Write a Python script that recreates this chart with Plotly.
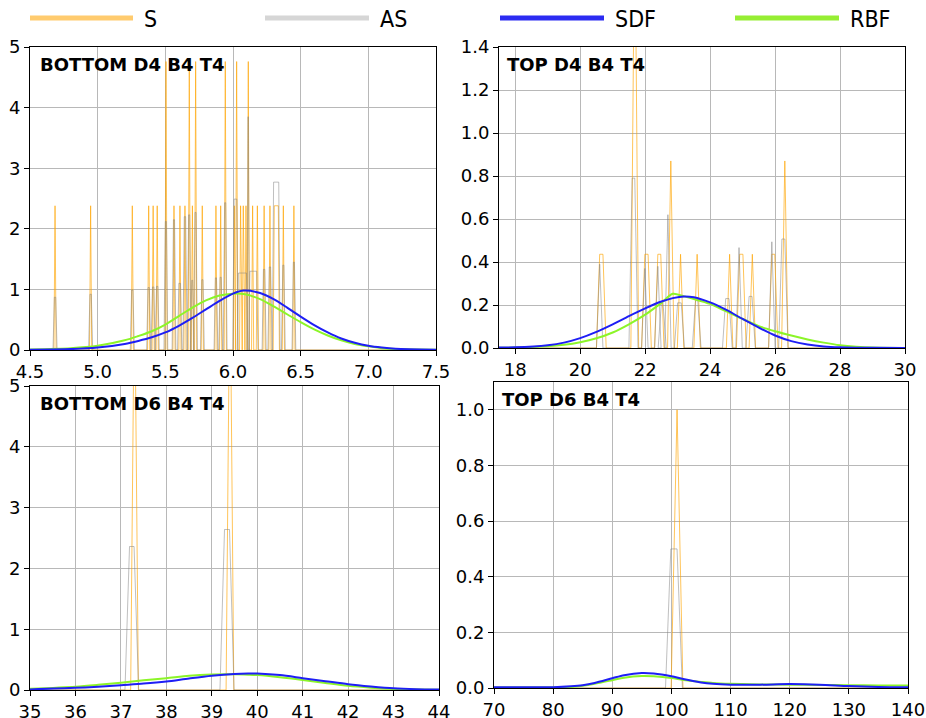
import plotly.graph_objects as go
from plotly.subplots import make_subplots

W, H = 926, 718

# ---------------- DATA ----------------
series_names = ["S", "AS", "SDF", "RBF"]
panel_titles = ["BOTTOM D4 B4 T4", "TOP D4 B4 T4", "BOTTOM D6 B4 T4", "TOP D6 B4 T4"]

# Panel 1: BOTTOM D4 B4 T4
tl_s_start = [4.685, 4.948, 5.256, 5.377, 5.410, 5.440, 5.505, 5.564, 5.608, 5.645, 5.677, 5.700, 5.724,
              5.773, 5.874, 5.909, 5.943, 6.010, 6.027, 6.056, 6.076, 6.096, 6.113, 6.145, 6.180, 6.230,
              6.273, 6.305, 6.372, 6.450]
tl_s_end = [4.685, 4.948, 5.256, 5.377, 5.410, 5.440, 5.505, 5.564, 5.608, 5.645, 5.677, 5.700, 5.724,
            5.773, 5.874, 5.909, 5.943, 6.010, 6.027, 6.056, 6.076, 6.096, 6.113, 6.145, 6.180, 6.230,
            6.273, 6.335, 6.372, 6.450]
tl_s_h = [2.38, 2.38, 2.38, 2.38, 2.38, 2.38, 4.76, 2.38, 2.38, 2.38, 4.76, 2.38, 4.76,
          2.38, 2.38, 2.38, 4.76, 2.38, 4.76, 2.38, 2.38, 2.38, 4.76, 2.38, 2.38, 2.38,
          2.38, 2.38, 2.38, 2.38]
tl_as_start = [4.680, 4.943, 5.251, 5.372, 5.405, 5.435, 5.500, 5.560, 5.600, 5.640, 5.672, 5.695, 5.719,
               5.770, 5.870, 5.905, 5.938, 6.008, 6.040, 6.112, 6.125, 6.225, 6.268, 6.300, 6.368, 6.446]
tl_as_end = [4.690, 4.953, 5.261, 5.382, 5.415, 5.445, 5.508, 5.568, 5.612, 5.650, 5.680, 5.702, 5.727,
             5.778, 5.878, 5.913, 5.946, 6.028, 6.100, 6.112, 6.175, 6.235, 6.278, 6.338, 6.376, 6.454]
tl_as_h = [0.87, 0.92, 0.99, 1.03, 1.04, 1.05, 2.12, 2.15, 1.10, 2.20, 2.23, 1.15, 2.27,
           1.16, 1.19, 1.20, 2.43, 2.49, 1.27, 3.85, 1.30, 1.33, 1.37, 2.77, 1.40, 1.45]
tl_curve_x = [4.5, 4.8, 5.0, 5.2, 5.3, 5.4, 5.5, 5.6, 5.7, 5.8, 5.9, 6.0, 6.08, 6.2, 6.3, 6.4, 6.5,
              6.6, 6.7, 6.8, 6.9, 7.0, 7.1, 7.2, 7.5]
tl_sdf = [0.005, 0.015, 0.04, 0.10, 0.15, 0.21, 0.29, 0.40, 0.53, 0.67, 0.81, 0.93, 0.98, 0.94, 0.84,
          0.70, 0.55, 0.41, 0.29, 0.19, 0.12, 0.07, 0.04, 0.02, 0.005]
tl_rbf = [0.01, 0.03, 0.07, 0.16, 0.23, 0.31, 0.42, 0.56, 0.70, 0.82, 0.90, 0.93, 0.925, 0.84, 0.72,
          0.59, 0.46, 0.34, 0.24, 0.16, 0.10, 0.06, 0.03, 0.015, 0.005]

# Panel 2: TOP D4 B4 T4
tr_s_start = [20.60, 21.66, 21.99, 22.39, 22.79, 23.09, 23.60, 24.60, 24.91, 25.30, 25.90, 26.30]
tr_s_end = [20.70, 21.70, 22.09, 22.48, 22.79, 23.09, 23.60, 24.60, 25.01, 25.30, 25.99, 26.30]
tr_s_h = [0.436, 1.74, 0.436, 0.436, 0.87, 0.436, 0.436, 0.436, 0.436, 0.436, 0.436, 0.87]
tr_as_start = [20.60, 21.60, 21.99, 22.39, 22.50, 22.70, 23.00, 23.55, 24.48, 24.89, 25.20, 25.90, 26.21]
tr_as_end = [20.60, 21.68, 21.99, 22.39, 22.55, 22.70, 23.11, 23.62, 24.58, 24.89, 25.29, 25.90, 26.30]
tr_as_h = [0.39, 0.79, 0.37, 0.38, 0.21, 0.62, 0.21, 0.22, 0.23, 0.467, 0.24, 0.494, 0.507]
tr_curve_x = [17.5, 18, 19, 19.5, 20, 20.5, 21, 21.5, 22, 22.5, 22.85, 23.2, 23.5, 24, 24.5, 25, 25.5,
              26, 26.5, 27, 27.5, 28, 28.5, 29, 30]
tr_sdf = [0.002, 0.003, 0.013, 0.025, 0.046, 0.075, 0.110, 0.148, 0.184, 0.216, 0.232, 0.240, 0.236,
          0.212, 0.177, 0.135, 0.095, 0.058, 0.032, 0.016, 0.007, 0.003, 0.0015, 0.001, 0.0]
tr_rbf = [0.001, 0.002, 0.008, 0.015, 0.027, 0.045, 0.072, 0.110, 0.155, 0.210, 0.252, 0.240, 0.228,
          0.205, 0.170, 0.135, 0.102, 0.078, 0.058, 0.040, 0.025, 0.013, 0.006, 0.002, 0.0]

# Panel 3: BOTTOM D6 B4 T4
bl_s_start = [37.30, 39.40]
bl_s_end = [37.30, 39.40]
bl_s_h = [7.0, 7.2]
bl_as_start = [37.19, 39.28]
bl_as_end = [37.29, 39.39]
bl_as_h = [2.36, 2.64]
bl_curve_x = [35, 36, 36.5, 37, 37.5, 38, 38.5, 39, 39.5, 39.8, 40, 40.5, 41, 41.5, 42, 42.5, 43, 43.5, 44]
bl_sdf = [0.01, 0.035, 0.055, 0.08, 0.105, 0.14, 0.19, 0.235, 0.265, 0.272, 0.27, 0.245, 0.195, 0.145,
          0.095, 0.058, 0.028, 0.014, 0.008]
bl_rbf = [0.02, 0.055, 0.085, 0.12, 0.16, 0.195, 0.235, 0.255, 0.258, 0.252, 0.245, 0.21, 0.165, 0.115,
          0.068, 0.038, 0.018, 0.009, 0.005]

# Panel 4: TOP D6 B4 T4
br_s_start = [100.95]
br_s_end = [100.95]
br_s_h = [1.0]
br_as_start = [99.9]
br_as_end = [100.95]
br_as_h = [0.5]
br_curve_x = [70, 80, 83, 85, 87, 90, 92, 95, 97, 100, 102, 105, 107, 110, 115, 120, 125, 130, 135, 140]
br_sdf = [0.003, 0.003, 0.006, 0.010, 0.018, 0.035, 0.046, 0.054, 0.052, 0.042, 0.032, 0.020, 0.015,
          0.012, 0.012, 0.014, 0.012, 0.007, 0.004, 0.003]
br_rbf = [0.002, 0.002, 0.004, 0.008, 0.015, 0.028, 0.037, 0.043, 0.042, 0.036, 0.029, 0.022, 0.018,
          0.015, 0.013, 0.012, 0.011, 0.010, 0.009, 0.009]

# axis ranges & ticks
x_ranges = [[4.5, 7.5], [17.5, 30], [35, 44], [70, 140]]
y_ranges = [[0, 5], [0, 1.4], [0, 5], [0, 1.1]]
x_ticks = [[4.5, 5.0, 5.5, 6.0, 6.5, 7.0, 7.5], [18, 20, 22, 24, 26, 28, 30],
           [35, 36, 37, 38, 39, 40, 41, 42, 43, 44], [70, 80, 90, 100, 110, 120, 130, 140]]
x_ticktext = [["4.5", "5.0", "5.5", "6.0", "6.5", "7.0", "7.5"], ["18", "20", "22", "24", "26", "28", "30"],
              ["35", "36", "37", "38", "39", "40", "41", "42", "43", "44"],
              ["70", "80", "90", "100", "110", "120", "130", "140"]]
y_ticks = [[0, 1, 2, 3, 4, 5], [0, 0.2, 0.4, 0.6, 0.8, 1.0, 1.2, 1.4], [0, 1, 2, 3, 4, 5],
           [0, 0.2, 0.4, 0.6, 0.8, 1.0]]
y_ticktext = [["0", "1", "2", "3", "4", "5"], ["0.0", "0.2", "0.4", "0.6", "0.8", "1.0", "1.2", "1.4"],
              ["0", "1", "2", "3", "4", "5"], ["0.0", "0.2", "0.4", "0.6", "0.8", "1.0"]]
ramps_s = [0.008, 0.1, 0.085, 1.0]
ramps_as = [0.01, 0.1, 0.1, 0.9]

# ---------------- STYLE ----------------
C_S = "rgba(255,165,0,0.65)"
C_AS = "rgba(128,128,128,0.5)"
C_SDF = "rgb(30,30,245)"
C_RBF = "rgb(140,245,40)"
LEG_COLORS = ["#FFCB6E", "#D6D6D6", "#2B2BF2", "#96EE33"]

# pixel layout of each panel: (left, right, top, bottom)
panel_px = [(30, 436, 47, 350), (499, 905, 47, 348), (30, 439, 386, 690), (494, 908, 382, 688)]


def build_steps(starts, ends, heights, ramp, xr):
    xs, ys = [xr[0]], [0]
    for s, e, h in zip(starts, ends, heights):
        xs += [s - ramp, s, e, e + ramp]
        ys += [0, h, h, 0]
    xs.append(xr[1])
    ys.append(0)
    return xs, ys


fig = make_subplots(rows=2, cols=2)

panels = [
    (tl_s_start, tl_s_end, tl_s_h, tl_as_start, tl_as_end, tl_as_h, tl_curve_x, tl_sdf, tl_rbf),
    (tr_s_start, tr_s_end, tr_s_h, tr_as_start, tr_as_end, tr_as_h, tr_curve_x, tr_sdf, tr_rbf),
    (bl_s_start, bl_s_end, bl_s_h, bl_as_start, bl_as_end, bl_as_h, bl_curve_x, bl_sdf, bl_rbf),
    (br_s_start, br_s_end, br_s_h, br_as_start, br_as_end, br_as_h, br_curve_x, br_sdf, br_rbf),
]

for i, (ss, se, sh, as_, ae, ah, cx, sdf, rbf) in enumerate(panels):
    r, c = i // 2 + 1, i % 2 + 1
    sx, sy = build_steps(ss, se, sh, ramps_s[i], x_ranges[i])
    ax, ay = build_steps(as_, ae, ah, ramps_as[i], x_ranges[i])
    fig.add_trace(go.Scatter(x=sx, y=sy, mode="lines", name=series_names[0], showlegend=False,
                             line=dict(color=C_S, width=1)), row=r, col=c)
    fig.add_trace(go.Scatter(x=ax, y=ay, mode="lines", name=series_names[1], showlegend=False,
                             line=dict(color=C_AS, width=1)), row=r, col=c)
    fig.add_trace(go.Scatter(x=cx, y=rbf, mode="lines", name=series_names[3], showlegend=False,
                             line=dict(color=C_RBF, width=2, shape="spline", smoothing=0.8)), row=r, col=c)
    fig.add_trace(go.Scatter(x=cx, y=sdf, mode="lines", name=series_names[2], showlegend=False,
                             line=dict(color=C_SDF, width=2, shape="spline", smoothing=0.8)), row=r, col=c)

tickfont = dict(family="DejaVu Sans", size=18, color="black")
for i in range(4):
    l, rgt, t, b = panel_px[i]
    sfx = "" if i == 0 else str(i + 1)
    common = dict(showline=True, mirror=True, linecolor="black", linewidth=1, showgrid=True,
                  gridcolor="#b8b8b8", gridwidth=1, zeroline=False, ticks="outside", ticklen=5,
                  tickcolor="black", tickfont=tickfont, automargin=False)
    fig.layout["xaxis" + sfx].update(
        domain=[l / W, rgt / W], range=x_ranges[i], tickvals=x_ticks[i], ticktext=x_ticktext[i], **common)
    fig.layout["yaxis" + sfx].update(
        domain=[1 - b / H, 1 - t / H], range=y_ranges[i], tickvals=y_ticks[i], ticktext=y_ticktext[i],
        **common)
    fig.add_annotation(text="<b>" + panel_titles[i] + "</b>", xref="x" + sfx + " domain",
                       yref="y" + sfx + " domain", x=6 / (rgt - l) if i % 2 else 8 / (rgt - l),
                       y=1 - 17 / (b - t), xanchor="left", yanchor="middle", showarrow=False,
                       font=dict(family="DejaVu Sans", size=18, color="black"))

# legend drawn at top of the page
leg_line_x = [(30, 133), (265, 369), (500, 604), (735, 839)]
leg_y = 18
for (x0, x1), col, name in zip(leg_line_x, LEG_COLORS, series_names):
    fig.add_shape(type="line", xref="paper", yref="paper", x0=x0 / W, x1=x1 / W,
                  y0=1 - leg_y / H, y1=1 - leg_y / H, line=dict(color=col, width=5))
    fig.add_annotation(text=name, xref="paper", yref="paper", x=(x1 + 9) / W, y=1 - (leg_y + 1) / H,
                       xanchor="left", yanchor="middle", showarrow=False,
                       font=dict(family="DejaVu Sans Condensed, Liberation Sans Narrow, Liberation Sans",
                                 size=23, color="black"))

fig.update_layout(width=W, height=H, margin=dict(l=0, r=0, t=0, b=0), paper_bgcolor="white",
                  plot_bgcolor="white", showlegend=False)

fig.write_html("out.html")
